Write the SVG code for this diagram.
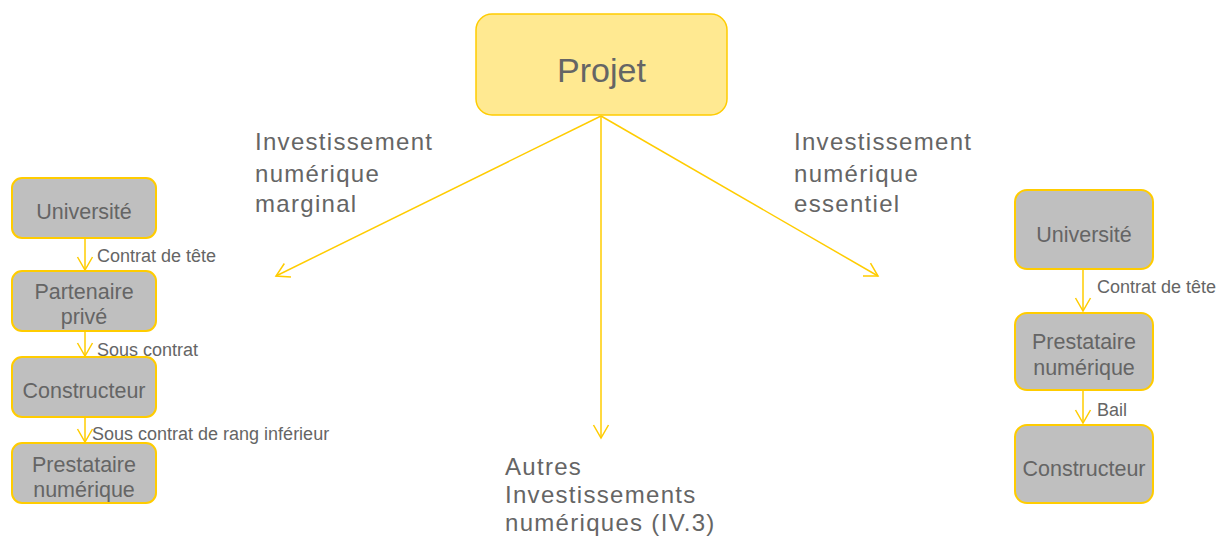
<svg xmlns="http://www.w3.org/2000/svg" width="1217" height="543" viewBox="0 0 1217 543">
  <defs>
    <marker id="chev" markerUnits="userSpaceOnUse" markerWidth="30" markerHeight="30" viewBox="-15 -15 30 30" refX="0" refY="0" orient="auto">
      <path d="M-13,-7.5 L0,0 L-13,7.5" fill="none" stroke="#FFCC00" stroke-width="1.5"/>
    </marker>
    <style>
      text { font-family: "Liberation Sans", Arial, sans-serif; fill: #656565; }
      .box { fill: #BFBFBF; stroke: #FFCC00; stroke-width: 2; }
      .root { fill: #FFE991; stroke: #FFCC00; stroke-width: 1.5; }
      .boxtxt { font-size: 21.5px; text-anchor: middle; }
      .edge { fill: none; stroke: #FFCC00; stroke-width: 1.5; marker-end: url(#chev); }
      .elabel { font-size: 18px; }
      .branch { font-size: 24px; letter-spacing: 1.3px; }
    </style>
  </defs>
  <rect width="1217" height="543" fill="#FFFFFF"/>

  <!-- connectors -->
  <g id="connectors">
    <line class="edge" x1="601" y1="116" x2="276" y2="276"/>
    <line class="edge" x1="601" y1="116" x2="601" y2="438"/>
    <line class="edge" x1="601" y1="116" x2="878" y2="276"/>
    <line class="edge" x1="85" y1="238" x2="85" y2="270"/>
    <line class="edge" x1="85" y1="331" x2="85" y2="356"/>
    <line class="edge" x1="85" y1="417" x2="85" y2="442"/>
    <line class="edge" x1="1083" y1="269" x2="1083" y2="311"/>
    <line class="edge" x1="1083" y1="390" x2="1083" y2="423"/>
    <text class="elabel" x="97" y="262">Contrat de tête</text>
    <text class="elabel" x="97" y="356">Sous contrat</text>
    <text class="elabel" x="92" y="440">Sous contrat de rang inférieur</text>
    <text class="elabel" x="1097" y="293">Contrat de tête</text>
    <text class="elabel" x="1097" y="416">Bail</text>
  </g>

  <!-- root node -->
  <g id="projet">
    <rect class="root" x="476" y="14" width="251" height="101" rx="16"/>
    <text x="601.5" y="82" font-size="34" text-anchor="middle">Projet</text>
  </g>

  <!-- branch labels -->
  <g id="branch-marginal">
    <text class="branch" x="255" y="150">Investissement</text>
    <text class="branch" x="255" y="182">numérique</text>
    <text class="branch" x="255" y="212">marginal</text>
  </g>
  <g id="branch-essentiel">
    <text class="branch" x="794" y="150">Investissement</text>
    <text class="branch" x="794" y="182">numérique</text>
    <text class="branch" x="794" y="212">essentiel</text>
  </g>
  <g id="branch-autres">
    <text class="branch" x="505" y="475">Autres</text>
    <text class="branch" x="505" y="503">Investissements</text>
    <text class="branch" x="505" y="531">numériques (IV.3)</text>
  </g>

  <!-- left chain -->
  <g id="l-universite">
    <rect class="box" x="12" y="178" width="144" height="60" rx="10"/>
    <text class="boxtxt" x="84" y="219">Université</text>
  </g>
  <g id="l-partenaire">
    <rect class="box" x="12" y="271" width="144" height="60" rx="10"/>
    <text class="boxtxt" x="84" y="299">Partenaire</text>
    <text class="boxtxt" x="84" y="324">privé</text>
  </g>
  <g id="l-constructeur">
    <rect class="box" x="12" y="357" width="144" height="60" rx="10"/>
    <text class="boxtxt" x="84" y="398">Constructeur</text>
  </g>
  <g id="l-prestataire">
    <rect class="box" x="12" y="443" width="144" height="60" rx="10"/>
    <text class="boxtxt" x="84" y="472">Prestataire</text>
    <text class="boxtxt" x="84" y="497">numérique</text>
  </g>

  <!-- right chain -->
  <g id="r-universite">
    <rect class="box" x="1015" y="190" width="138" height="79" rx="12"/>
    <text class="boxtxt" x="1084" y="242">Université</text>
  </g>
  <g id="r-prestataire">
    <rect class="box" x="1015" y="313" width="138" height="77" rx="12"/>
    <text class="boxtxt" x="1084" y="349">Prestataire</text>
    <text class="boxtxt" x="1084" y="375">numérique</text>
  </g>
  <g id="r-constructeur">
    <rect class="box" x="1015" y="425" width="138" height="78" rx="12"/>
    <text class="boxtxt" x="1084" y="476">Constructeur</text>
  </g>
</svg>
